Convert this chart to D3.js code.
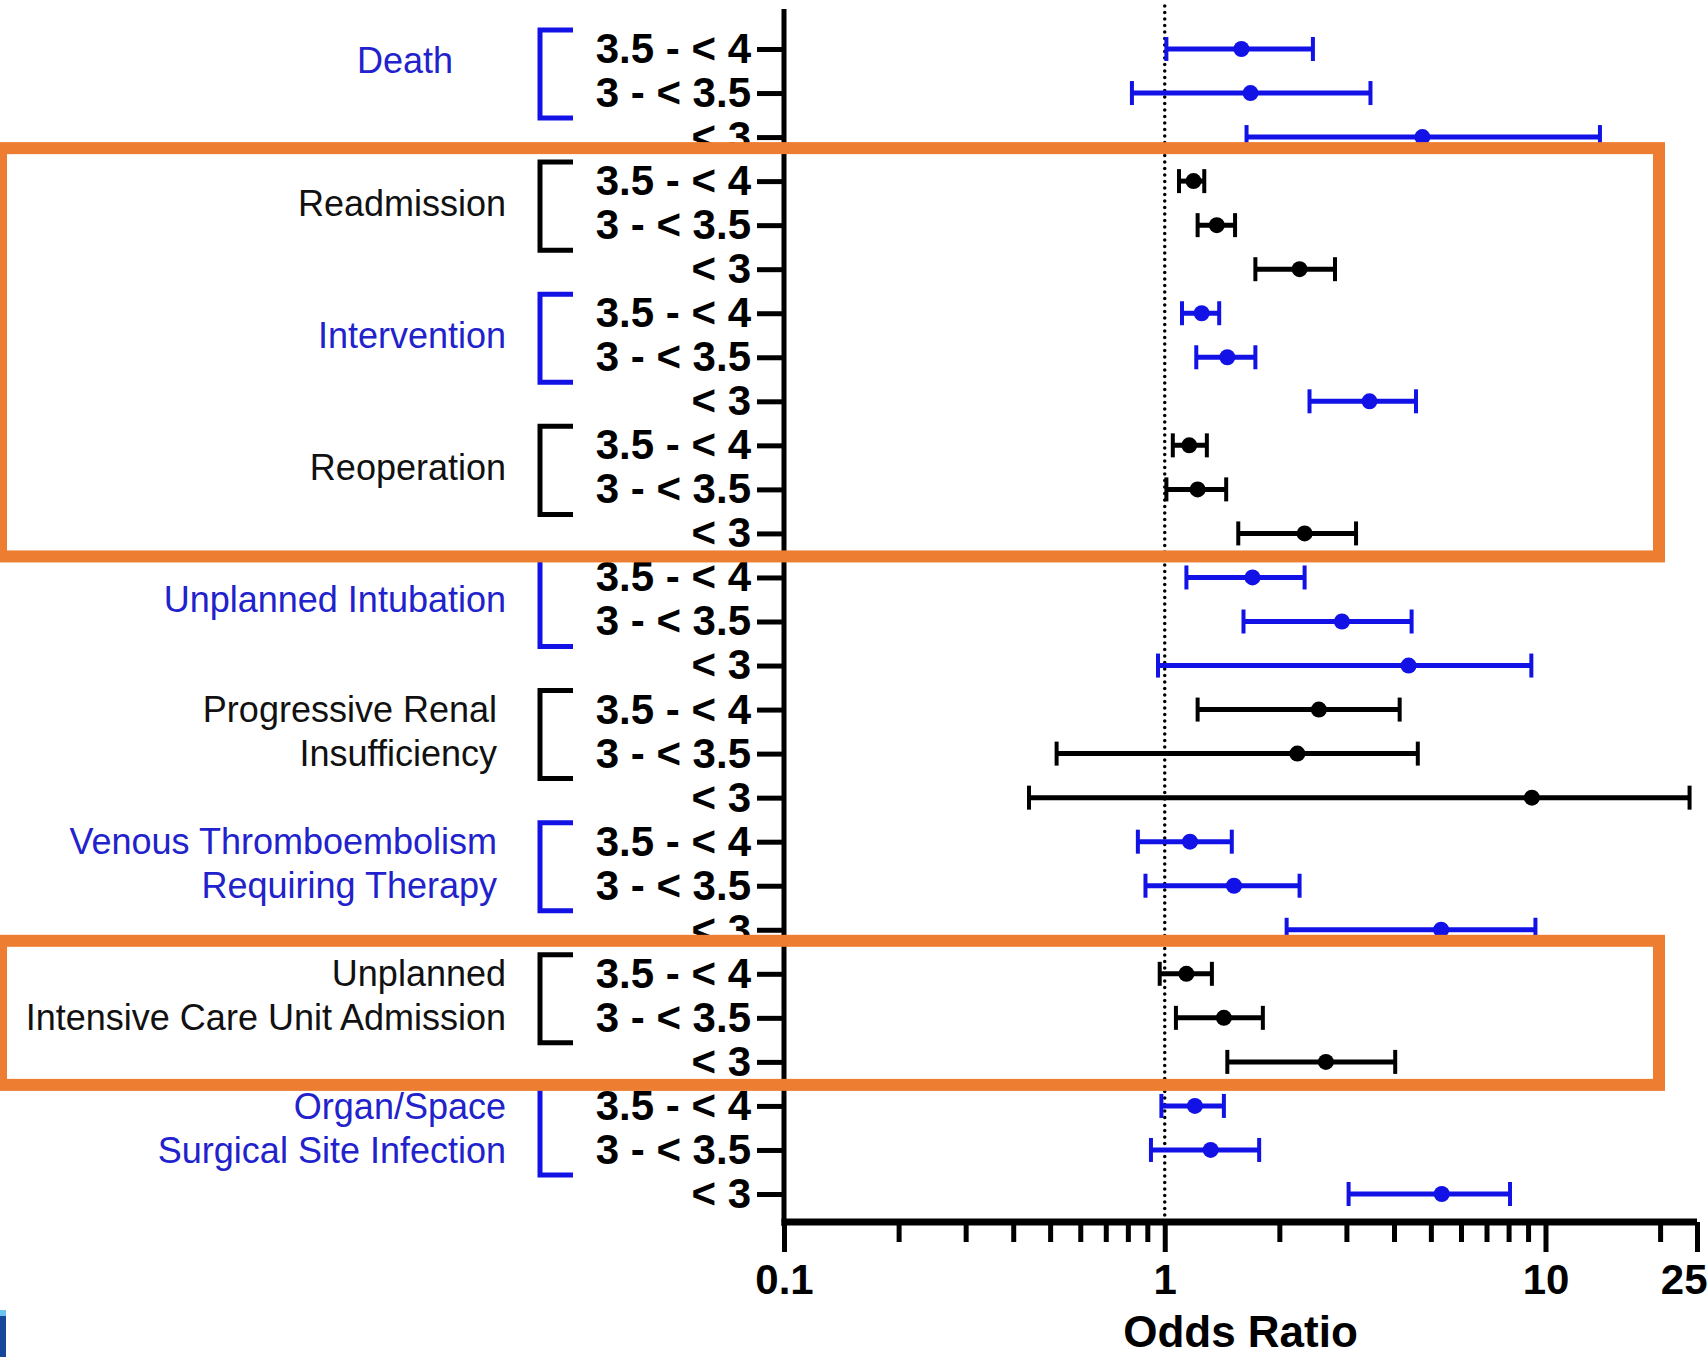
<!DOCTYPE html>
<html>
<head>
<meta charset="utf-8">
<script src="https://cdn.jsdelivr.net/npm/d3@7"></script>
<style>
  html, body { margin: 0; padding: 0; background: #fff; }
  svg { display: block; }
</style>
</head>
<body>
<svg id="chart" width="1708" height="1357"></svg>
<script>
// outcomes, top to bottom (label lines)
const outcomes = [
  ["Death"],
  ["Readmission"],
  ["Intervention"],
  ["Reoperation"],
  ["Unplanned Intubation"],
  ["Progressive Renal", "Insufficiency"],
  ["Venous Thromboembolism", "Requiring Therapy"],
  ["Unplanned", "Intensive Care Unit Admission"],
  ["Organ/Space", "Surgical Site Infection"]
];
// albumin strata, one row each per outcome
const albuminLevels = ["3.5 - < 4", "3 - < 3.5", "< 3"];

// odds ratio and 95% CI, 3 values per outcome
const oddsRatio = [
  1.59, 1.68, 4.75,
  1.19, 1.37, 2.26,
  1.25, 1.46, 3.45,
  1.16, 1.22, 2.33,
  1.70, 2.92, 4.37,
  2.54, 2.23, 9.21,
  1.165, 1.52, 5.32,
  1.14, 1.43, 2.65,
  1.20, 1.32, 5.34
];
const ciLow = [
  1.01, 0.82, 1.64,
  1.09, 1.22, 1.73,
  1.11, 1.21, 2.40,
  1.05, 1.01, 1.56,
  1.14, 1.61, 0.96,
  1.22, 0.52, 0.44,
  0.85, 0.89, 2.09,
  0.97, 1.07, 1.46,
  0.98, 0.92, 3.04
];
const ciHigh = [
  2.45, 3.47, 13.9,
  1.27, 1.53, 2.80,
  1.39, 1.73, 4.57,
  1.29, 1.45, 3.18,
  2.33, 4.45, 9.18,
  4.14, 4.62, 23.9,
  1.50, 2.26, 9.41,
  1.33, 1.81, 4.03,
  1.43, 1.77, 8.07
];

const xTickValues = [0.1, 1, 10, 25];
const xMinorTicks = [0.2, 0.3, 0.4, 0.5, 0.6, 0.7, 0.8, 0.9, 2, 3, 4, 5, 6, 7, 8, 9, 20];
// outcome index ranges boxed in orange
const highlightRanges = [[1, 3], [7, 7]];

const BLUE = '#1212e6';
const BLUE_TEXT = '#2222cc';
const ORANGE = '#ED7D31';
const FONT = '"Liberation Sans", Arial, Helvetica, sans-serif';

const svg = d3.select('#chart');

const rows = [];
outcomes.forEach((o, gi) => {
  albuminLevels.forEach((lvl, li) => {
    const i = gi * 3 + li;
    rows.push({ id: i, group: gi, level: lvl, or: oddsRatio[i], lo: ciLow[i], hi: ciHigh[i] });
  });
});

const colorOf = g => (g % 2 === 0 ? BLUE : '#000');

const x = d3.scaleLog().domain([0.1, 25]).range([784, 1697]);
const y = d3.scalePoint().domain(rows.map(d => d.id)).range([49, 1194]);

const axisY = 1222;
const axisTop = 9;

// reference line at OR = 1 (round dots)
svg.append('line')
  .attr('x1', x(1)).attr('x2', x(1))
  .attr('y1', 6).attr('y2', axisY)
  .attr('stroke', '#000')
  .attr('stroke-width', 3.5)
  .attr('stroke-linecap', 'round')
  .attr('stroke-dasharray', '0 6.5');

// y axis (strata labels)
const yAxis = svg.append('g')
  .attr('transform', `translate(${x.range()[0]},0)`)
  .call(d3.axisLeft(y).tickSize(27).tickPadding(6).tickFormat(i => rows[i].level));
yAxis.select('.domain').remove();
yAxis.selectAll('.tick line').attr('stroke', '#000').attr('stroke-width', 5);
yAxis.selectAll('.tick text')
  .attr('fill', '#000')
  .style('font-family', FONT)
  .style('font-size', '42px')
  .style('font-weight', 'bold');

svg.append('line')
  .attr('x1', x.range()[0]).attr('x2', x.range()[0])
  .attr('y1', axisTop).attr('y2', axisY + 4)
  .attr('stroke', '#000').attr('stroke-width', 5);

// x axis, log scale
const xAxis = svg.append('g')
  .attr('transform', `translate(0,${axisY})`)
  .call(d3.axisBottom(x).tickValues(xTickValues).tickSize(30).tickPadding(12).tickFormat(d3.format('')));
xAxis.select('.domain').remove();
xAxis.selectAll('.tick line').attr('stroke', '#000').attr('stroke-width', 5);
xAxis.selectAll('.tick text')
  .attr('fill', '#000')
  .style('font-family', FONT)
  .style('font-size', '42px')
  .style('font-weight', 'bold');
xAxis.selectAll('.tick text').filter(d => d === 25)
  .attr('text-anchor', 'end').attr('x', 10);

const xMinor = svg.append('g')
  .attr('transform', `translate(0,${axisY})`)
  .call(d3.axisBottom(x).tickValues(xMinorTicks).tickSize(20).tickFormat(''));
xMinor.select('.domain').remove();
xMinor.selectAll('.tick line').attr('stroke', '#000').attr('stroke-width', 5);

svg.append('line')
  .attr('x1', x.range()[0] - 2.5).attr('x2', x.range()[1])
  .attr('y1', axisY).attr('y2', axisY)
  .attr('stroke', '#000').attr('stroke-width', 7);

svg.append('text')
  .attr('x', (x.range()[0] + x.range()[1]) / 2)
  .attr('y', 1347)
  .attr('text-anchor', 'middle')
  .style('font-family', FONT)
  .style('font-size', '44px')
  .style('font-weight', 'bold')
  .text('Odds Ratio');

// error bars
const bars = svg.append('g').selectAll('g.bar')
  .data(rows)
  .enter()
  .append('g')
  .attr('class', 'bar')
  .attr('stroke', d => colorOf(d.group))
  .attr('fill', d => colorOf(d.group));

bars.append('line')
  .attr('x1', d => x(d.lo)).attr('x2', d => x(d.hi))
  .attr('y1', d => y(d.id)).attr('y2', d => y(d.id))
  .attr('stroke-width', 5);

bars.selectAll('line.cap')
  .data(d => [d.lo, d.hi].map(v => ({ v, id: d.id })))
  .enter()
  .append('line')
  .attr('class', 'cap')
  .attr('x1', c => x(c.v)).attr('x2', c => x(c.v))
  .attr('y1', c => y(c.id) - 12).attr('y2', c => y(c.id) + 12)
  .attr('stroke-width', 4);

bars.append('circle')
  .attr('cx', d => x(d.or))
  .attr('cy', d => y(d.id))
  .attr('r', 8)
  .attr('stroke', 'none');

// outcome brackets and labels
const bracketX = 540;
const labelRight = [453, 506, 506, 506, 506, 497, 497, 506, 506];

outcomes.forEach((lines, gi) => {
  const r0 = y(gi * 3);
  const r1 = y(gi * 3 + 1);
  const c = colorOf(gi);

  svg.append('path')
    .attr('d', `M${bracketX + 33},${r0 - 19}H${bracketX}V${r1 + 25}H${bracketX + 33}`)
    .attr('fill', 'none')
    .attr('stroke', c)
    .attr('stroke-width', 5);

  const ys = lines.length === 1 ? [(r0 + r1) / 2 - (gi === 0 ? 11 : 0)] : [r0, r1];
  lines.forEach((t, k) => {
    svg.append('text')
      .attr('x', labelRight[gi])
      .attr('y', ys[k])
      .attr('dy', '0.35em')
      .attr('text-anchor', 'end')
      .attr('fill', gi % 2 === 0 ? BLUE_TEXT : '#111')
      .style('font-family', FONT)
      .style('font-size', '36px')
      .text(t);
  });
});

// orange highlight boxes
highlightRanges.forEach(([g0, g1]) => {
  const top = y(g0 * 3) - 33;
  const bottom = y(g1 * 3 + 2) + 23;
  svg.append('rect')
    .attr('x', 1)
    .attr('y', top)
    .attr('width', 1658)
    .attr('height', bottom - top)
    .attr('fill', 'none')
    .attr('stroke', ORANGE)
    .attr('stroke-width', 12);
});

// cropped logo sliver, bottom left
svg.append('rect').attr('x', 0).attr('y', 1312).attr('width', 6).attr('height', 45).attr('fill', '#16479a');
svg.append('rect').attr('x', 0).attr('y', 1310).attr('width', 6).attr('height', 6).attr('fill', '#6fc3f0');
</script>
</body>
</html>
